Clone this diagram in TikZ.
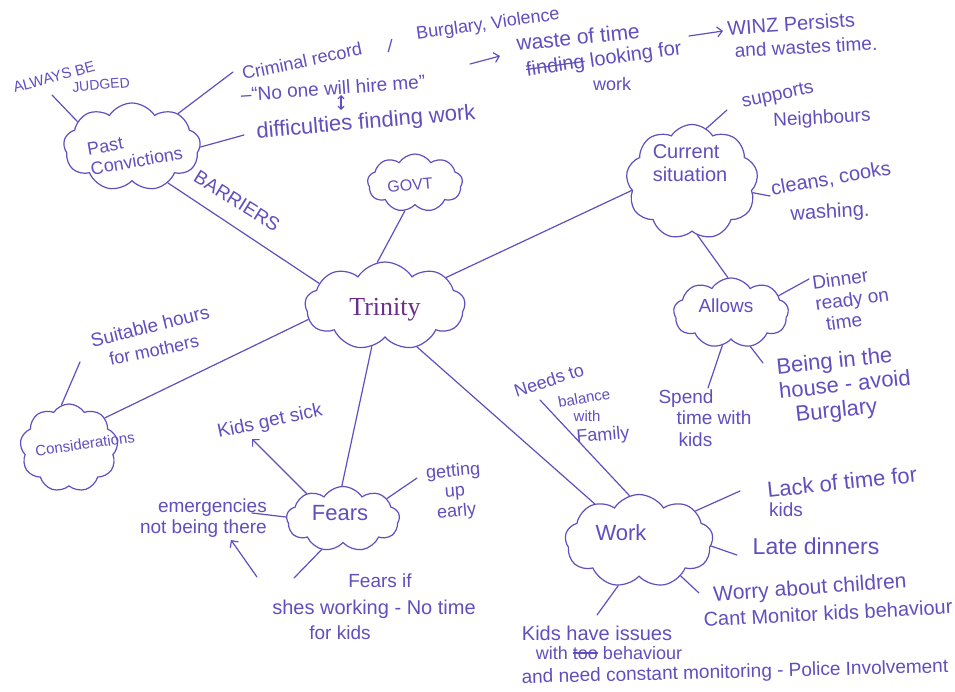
\documentclass[tikz,border=0pt]{standalone}
\usepackage{fontspec}
\newfontfamily\hand{Liberation Sans}
\newfontfamily\serifx{Liberation Serif}
\usetikzlibrary{shapes.symbols,arrows.meta}
\definecolor{ink}{RGB}{98,78,190}
\definecolor{trin}{RGB}{105,45,140}
\newcommand\hw[1]{\hand\fontsize{#1pt}{\fpeval{#1*1.12}pt}\selectfont}
\newsavebox\strikebox
\newcommand\strikeout[2][1.2pt]{\sbox\strikebox{#2}\rlap{\usebox\strikebox}\rule[0.3em]{\wd\strikebox}{#1}}
\tikzset{
  bubble/.style={cloud, cloud puffs=9, cloud puff arc=115, cloud ignores aspect, draw=ink, line width=1.2pt, inner sep=0pt},
  lbl/.style={text=ink, font=\hw{#1}, inner sep=0pt, align=center},
  lbl/.default=19,
  link/.style={draw=ink, line width=1.2pt, line cap=round},
  arr/.style={link, -{Straight Barb[length=5pt,width=10pt]}},
  dbl/.style={link, {Straight Barb[length=3pt,width=6pt]}-{Straight Barb[length=3pt,width=6pt]}},
}
\begin{document}
\begin{tikzpicture}[x=1pt,y=-1pt]
\fill[white] (0,0) rectangle (955,691);
\useasboundingbox (0,0) rectangle (955,691);

% clouds
\node[bubble, minimum width=160pt, minimum height=88pt] (trin) at (385,306) {};
\node[text=trin, font=\serifx\fontsize{26pt}{28pt}\selectfont, inner sep=0pt] (trintxt) at (385,310) {Trinity};
\node[bubble, minimum width=137pt, minimum height=88pt] (past) at (132,147) {};
\node[lbl=18, align=left, rotate=10] (pasttxt) at (135,151) {Past\\Convictions};
\node[bubble, minimum width=95pt, minimum height=58pt] (govt) at (415,183) {};
\node[lbl=16, rotate=5] (govttxt) at (410,185) {GOVT};
\node[bubble, minimum width=132pt, minimum height=115pt] (cur) at (692,182) {};
\node[lbl=20, align=left] (curtxt) at (690,163) {Current\\situation};
\node[bubble, minimum width=115pt, minimum height=70pt] (allows) at (731,313) {};
\node[lbl=19] (allowstxt) at (726,306) {Allows};
\node[bubble, minimum width=98pt, minimum height=88pt] (cons) at (69,448) {};
\node[lbl=15, rotate=8] (constxt) at (85,444) {Considerations};
\node[bubble, minimum width=113pt, minimum height=65pt] (fears) at (343,519) {};
\node[lbl=22] (fearstxt) at (340,513) {Fears};
\node[bubble, minimum width=148pt, minimum height=93pt] (work) at (639,541) {};
\node[lbl=22] (worktxt) at (621,533) {Work};

% labels
\node[lbl=15, rotate=15] (always) at (54,77) {ALWAYS BE};
\node[lbl=14, rotate=5] (judged) at (101,85) {JUDGED};
\node[lbl=18, rotate=12] (crim) at (302,61) {Criminal record};
\node[lbl=18] (slash) at (390,46) {/};
\node[lbl=18, rotate=8] (burg) at (488,25) {Burglary, Violence};
\node[lbl=19, rotate=4] (noone) at (333,88) {–“No one will hire me”};
\node[lbl=22, rotate=5] (diff) at (366,123) {difficulties finding work};
\node[lbl=21, rotate=6] (waste) at (578,37) {waste of time};
\node[lbl=20, rotate=8] (looking) at (604,60) {\strikeout{finding} looking for};
\node[lbl=18] (workw) at (612,84) {work};
\node[lbl=20, rotate=4] (winz) at (791,24) {WINZ Persists};
\node[lbl=19, rotate=3] (wastes) at (806,47) {and wastes time.};
\node[lbl=19, rotate=-32] (barriers) at (237,201) {BARRIERS};
\node[lbl=19, rotate=12] (supports) at (778,96) {supports};
\node[lbl=19, rotate=3] (neigh) at (822,119) {Neighbours};
\node[lbl=20, rotate=10] (cleans) at (831,179) {cleans, cooks};
\node[lbl=20, rotate=3] (washing) at (830,213) {washing.};
\node[lbl=19, align=left, rotate=8] (dinner) at (852,299) {Dinner\\ready on\\\hspace{8pt}time};
\node[lbl=22, align=left, rotate=6] (being) at (845,386) {Being in the\\house - avoid\\\hspace{14pt}Burglary};
\node[lbl=19, align=left] (spend) at (705,418) {Spend\\\hspace{18pt}time with\\\hspace{20pt}kids};
\node[lbl=18, rotate=18] (needs) at (549,380) {Needs to};
\node[lbl=15, rotate=10] (balance) at (584,398) {balance};
\node[lbl=15] (withf) at (587,416) {with};
\node[lbl=18, rotate=5] (family) at (603,436) {Family};
\node[lbl=19, rotate=14] (suit1) at (150,326) {Suitable hours};
\node[lbl=18, rotate=12] (suit2) at (154,350) {for mothers};
\node[lbl=19, rotate=12] (sick) at (270,422) {Kids get sick};
\node[lbl=19, align=right, anchor=east] (emerg) at (267,518) {emergencies\\not being there};
\node[lbl=18, rotate=5] (getting) at (455,492) {getting\\up\\early};
\node[lbl=19] (fi1) at (380,581) {Fears if};
\node[lbl=20] (fi2) at (374,609) {shes working - No time};
\node[lbl=19] (fi3) at (340,633) {for kids};
\node[lbl=22, rotate=6] (lack) at (842,482) {Lack of time for};
\node[lbl=19] (lackk) at (786,510) {kids};
\node[lbl=23] (late) at (816,546) {Late dinners};
\node[lbl=21, rotate=4] (worry) at (810,589) {Worry about children};
\node[lbl=20, rotate=3] (cant) at (828,613) {Cant Monitor kids behaviour};
\node[lbl=20] (ki1) at (597,633) {Kids have issues};
\node[lbl=18] (ki2) at (609,653) {with \strikeout[2.5pt]{too} behaviour};
\node[lbl=19, rotate=1.5] (ki3) at (735,673) {and need constant monitoring - Police Involvement};

% coordinates for free ends
\coordinate (pJ) at (52,95);
\coordinate (pC) at (233,72);
\coordinate (pD) at (244,135);
\coordinate (cS) at (727,110);
\coordinate (cC) at (770,196);
\coordinate (aD) at (809,279);
\coordinate (aS) at (708,388);
\coordinate (aB) at (763,363);
\coordinate (cnS) at (80,362);
\coordinate (fK) at (252,439);
\coordinate (fE) at (252,513);
\coordinate (fG) at (417,478);
\coordinate (fF) at (294,578);
\coordinate (fA) at (257,577);
\coordinate (fB) at (231,540);
\coordinate (wN) at (540,400);
\coordinate (wL) at (740,491);
\coordinate (wT) at (737,555);
\coordinate (wW) at (699,593);
\coordinate (wK) at (597,615);
\coordinate (aw1) at (470,64);
\coordinate (aw2) at (500,56);
\coordinate (az1) at (689,36);
\coordinate (az2) at (723,31);
\coordinate (du1) at (341,95);
\coordinate (du2) at (341,110);

% connectors
\draw[link] (past.155) -- (pJ);
\draw[link] (past.36) -- (pC);
\draw[link] (past.0) -- (pD);
\draw[link] (past.-45) -- (trin.161);
\draw[link] (govt.-110) -- (trin.100);
\draw[link] (trin.25) -- (cur.188);
\draw[link] (cur.75) -- (cS);
\draw[link] (cur.-10) -- (cC);
\draw[link] (cur.-84) -- (allows.95);
\draw[link] (allows.20) -- (aD);
\draw[link] (allows.-105) -- (aS);
\draw[link] (allows.-60) -- (aB);
\draw[link] (trin.190) -- (cons.40);
\draw[link] (cons.100) -- (cnS);
\draw[link] (trin.252) -- (fears.92);
\draw[arr] (fears.145) -- (fK);
\draw[link] (fears.178) -- (fE);
\draw[link] (fears.25) -- (fG);
\draw[link] (fears.-125) -- (fF);
\draw[arr] (fA) -- (fB);
\draw[link] (trin.308) -- (work.140);
\draw[link] (wN) -- (work.102);
\draw[link] (work.28) -- (wL);
\draw[link] (work.-4) -- (wT);
\draw[link] (work.-40) -- (wW);
\draw[link] (work.-115) -- (wK);
\draw[arr] (aw1) -- (aw2);
\draw[arr] (az1) -- (az2);
\draw[dbl] (du1) -- (du2);
\end{tikzpicture}
\end{document}
